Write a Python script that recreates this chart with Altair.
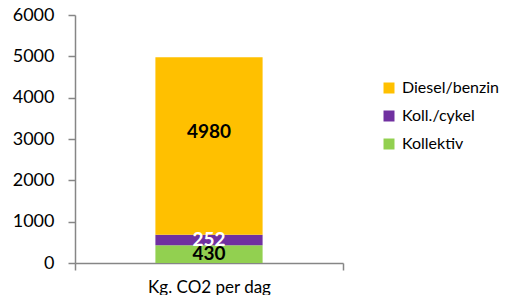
import altair as alt
import pandas as pd

category = "Kg. CO2 per dag"
series = ["Kollektiv", "Koll./cykel", "Diesel/benzin"]
values = [430, 252, 4980]
colors = ["#92D050", "#7030A0", "#FFC000"]
label_colors = ["black", "white", "black"]
legend_order = ["Diesel/benzin", "Koll./cykel", "Kollektiv"]

rows = []
start = 0
for i, (s, v) in enumerate(zip(series, values)):
    if i < len(series) - 1:
        y0, y1 = start, start + v
    else:
        y0, y1 = start, v
    rows.append({"cat": category, "series": s, "value": v, "y0": y0, "y1": y1,
                 "ylab": start + v / 2, "lc": label_colors[i]})
    start += v
df = pd.DataFrame(rows)

FONT = "Lato"

x = alt.X("cat:N", title=None,
          scale=alt.Scale(paddingInner=0, paddingOuter=0),
          axis=alt.Axis(labelAngle=0, labelFontSize=17, labelColor="black", labelFont=FONT,
                        domainColor="#868686", tickColor="#868686", tickBand="extent",
                        tickSize=7, labelPadding=9, domainWidth=1.5, tickWidth=1.5))

bars = alt.Chart(df).mark_bar(width=alt.RelativeBandSize(0.4)).encode(
    x=x,
    y=alt.Y("y0:Q", title=None,
            scale=alt.Scale(domain=[0, 6000], nice=False),
            axis=alt.Axis(values=[0, 1000, 2000, 3000, 4000, 5000, 6000], grid=False,
                          format="d",
                          labelFontSize=18, labelColor="black", labelFont=FONT,
                          domainColor="#868686", tickColor="#868686", tickSize=7,
                          labelPadding=14, domainWidth=1.5, tickWidth=1.5)),
    y2="y1:Q",
    color=alt.Color("series:N",
                    scale=alt.Scale(domain=series, range=colors),
                    sort=legend_order,
                    legend=alt.Legend(title=None, orient="none", legendX=306, legendY=65,
                                      symbolType="square", symbolSize=121, symbolStrokeWidth=0,
                                      labelFontSize=16, labelFont=FONT, labelColor="black",
                                      rowPadding=12, labelOffset=5, values=legend_order)),
)

labels = alt.Chart(df).mark_text(fontSize=19, fontWeight="bold", font=FONT).encode(
    x="cat:N",
    y=alt.Y("ylab:Q"),
    text="value:Q",
    color=alt.Color("lc:N", scale=None),
)

chart = alt.layer(bars, labels).properties(
    width=268, height=248,
    autosize=alt.AutoSizeParams(type="none"),
    padding={"left": 67, "top": 7, "right": 170, "bottom": 32},
).configure_view(stroke=None)

chart.save("out.html", embed_options={"renderer": "svg", "actions": False})
